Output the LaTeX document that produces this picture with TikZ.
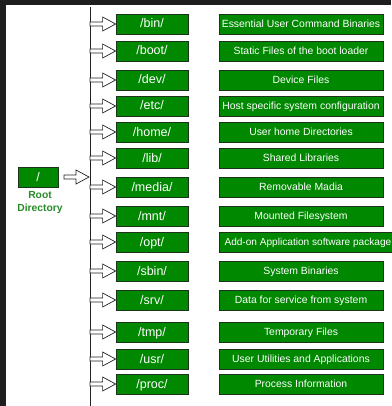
\documentclass[tikz,border=0pt]{standalone}
\usepackage{fontspec}
\setmainfont{Liberation Sans}
\usetikzlibrary{calc}
\definecolor{boxgreen}{RGB}{0,136,0}
\definecolor{boxedge}{RGB}{28,52,28}
\definecolor{labgreen}{RGB}{40,140,40}
\definecolor{framedark}{RGB}{30,30,30}
\definecolor{trunkcol}{RGB}{34,34,34}
\tikzset{
  dirbox/.style={draw=boxedge, fill=boxgreen, line width=0.8pt, text=white,
    minimum width=72pt, minimum height=20pt, inner sep=0pt,
    font=\fontsize{12.5}{14}\selectfont, text height=9pt, text depth=1pt},
  descbox/.style={draw=boxedge, fill=boxgreen, line width=0.8pt, text=white,
    minimum width=164pt, minimum height=20pt, inner sep=0pt,
    font=\fontsize{10.4}{12}\selectfont, text height=7.5pt, text depth=0.6pt},
  harrow/.style={draw=trunkcol, fill=white, line width=0.7pt, line join=miter,
    to path={let \p1=(\tikztostart), \p2=(\tikztotarget) in
      (\x1,\y2+2pt) -- (\x2-13pt,\y2+2pt) -- (\x2-13pt,\y2+7pt) -- (\x2,\y2)
      -- (\x2-13pt,\y2-7pt) -- (\x2-13pt,\y2-2pt) -- (\x1,\y2-2pt) -- cycle}},
  rootlabel/.style={text=labgreen, font=\bfseries\fontsize{10.3}{13}\selectfont,
    align=center, inner sep=0pt}
}
\begin{document}
\begin{tikzpicture}[x=1pt,y=-1pt]
\useasboundingbox (0,0) rectangle (391,406);
\fill[white] (0,0) rectangle (391,406);
\fill[framedark] (0,0) rectangle (391,5);
\fill[framedark] (0,0) rectangle (6,406);

% trunk
\coordinate (ttop) at (90,7);
\coordinate (tbot) at (90,406);
\draw[trunkcol, line width=0.8pt] (ttop) -- (tbot);

% root
\node[dirbox, minimum width=40pt] (root) at (38,177) {/};
\node[rootlabel, anchor=north] (rootlab) at (40,191) {Root\\Directory};
\coordinate (rootout) at (64,177);
\coordinate (rootin) at (89,177);
\draw[harrow] (rootout) to (rootin);

% directories
\foreach \nm/\yy/\dd/\tt in {
  bin/24/{/bin/}/{Essential User Command Binaries},
  boot/51/{/boot/}/{Static Files of the boot loader},
  dev/80/{/dev/}/{Device Files},
  etc/106/{/etc/}/{Host specific system configuration},
  home/132/{/home/}/{User home Directories},
  lib/158/{/lib/}/{Shared Libraries},
  media/187/{/media/}/{Removable Madia},
  mnt/216/{/mnt/}/{Mounted Filesystem},
  sbin/271/{/sbin/}/{System Binaries},
  srv/300/{/srv/}/{Data for service from system},
  tmp/332/{/tmp/}/{Temporary Files},
  usr/359/{/usr/}/{User Utilities and Applications},
  proc/384/{/proc/}/{Process Information}}{
  \node[dirbox] (\nm) at (152,\yy) {\dd};
  \node[descbox] (\nm-d) at (301,\yy) {\tt};
  \coordinate (t-\nm) at (90,\yy);
  \draw[harrow] (t-\nm) to (\nm.west);
}

% opt (wide description box)
\node[dirbox] (opt) at (152,242) {/opt/};
\node[descbox, minimum width=176pt, anchor=west, font=\fontsize{10.1}{12}\selectfont] (opt-d) at (219,242) {\hspace*{1pt}Add-on Application software package\hfill};
\coordinate (t-opt) at (90,242);
\draw[harrow] (t-opt) to (opt.west);
\end{tikzpicture}
\end{document}
